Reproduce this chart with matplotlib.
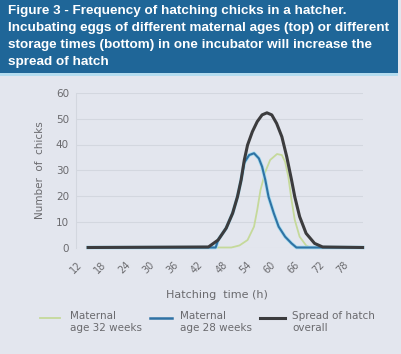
import matplotlib
matplotlib.use('Agg')
import matplotlib.pyplot as plt
import matplotlib.patches as mpatches

# hatching time (h) and number of chicks
t_overall = [15, 44.8, 47.2, 49.2, 50.8, 52.0, 52.9, 53.7, 54.5, 55.7, 56.9, 58.1,
             59.3, 60.5, 61.7, 63.0, 64.2, 65.4, 66.2, 67.4, 69.0, 71.1, 73.1, 83]
n_overall = [0, 0.2, 2.9, 7.5, 13.3, 19.7, 26.2, 34, 39.8, 45, 48.9, 51.5,
             52.3, 51.5, 48.2, 43, 35.3, 26.2, 19.7, 12, 5.5, 1.6, 0.2, 0]

t_age28 = [15, 46.6, 47.2, 49.2, 50.8, 52.0, 52.9, 53.7, 54.9, 56.1, 57.3, 58.1,
           58.9, 59.7, 61.0, 62.2, 63.8, 65.4, 66.6, 83]
n_age28 = [0, 0, 2.9, 7.5, 13.3, 19.7, 26.2, 33, 35.9, 36.6, 34.6, 31.4,
           26.2, 19.7, 13.3, 8.1, 4.2, 1.6, 0, 0]

t_age32 = [15, 50.5, 52.5, 54.5, 56.1, 56.9, 57.7, 58.9, 60.1, 61.8, 63.0, 63.8,
           64.6, 65.4, 66.2, 67.4, 69.0, 70.0, 83]
n_age32 = [0, 0, 0.8, 2.9, 8.1, 14.6, 22.3, 29.4, 34, 36.3, 35.9, 33.3,
           27.5, 18.4, 10.7, 4.2, 0.8, 0, 0]

xticks = [12, 18, 24, 30, 36, 42, 48, 54, 60, 66, 72, 78]
yticks = [0, 10, 20, 30, 40, 50, 60]

title = ("Figure 3 - Frequency of hatching chicks in a hatcher.\n"
         "Incubating eggs of different maternal ages (top) or different\n"
         "storage times (bottom) in one incubator will increase the\n"
         "spread of hatch")

W, H = 402, 354
bg = '#e3e6ee'
c_green = '#c5d99a'
c_blue = '#2f72a4'
c_dark = '#3c3c3e'
c_text = '#6a6a6e'

fig = plt.figure(figsize=(W/100, H/100), dpi=100, facecolor=bg)

# title banner
fig.patches.append(mpatches.Rectangle((0, 1-73/H), 398/W, 73/H, transform=fig.transFigure,
                                      facecolor='#1f6698', edgecolor='none', zorder=0))
fig.patches.append(mpatches.Rectangle((0, 1-76/H), 398/W, 3/H, transform=fig.transFigure,
                                      facecolor='#b4dcef', edgecolor='none', zorder=0))
fig.text(8/W, 1-5/H, title, color='white', fontsize=9.7, fontweight='bold',
         family=['Liberation Sans Narrow', 'Liberation Sans'], va='top', ha='left',
         linespacing=1.55)

ax = fig.add_axes([76/W, 106.5/H, 287/W, 154.5/H])
ax.set_facecolor(bg)
ax.plot(t_age32, n_age32, color=c_green, lw=1.3, clip_on=False, zorder=3)
ax.plot(t_age28, n_age28, color='#a6dcef', lw=2.6, clip_on=False, zorder=3)
ax.plot(t_age28, n_age28, color=c_blue, lw=1.5, clip_on=False, zorder=4)
ax.plot(t_overall, n_overall, color=c_dark, lw=2.2, clip_on=False, zorder=5)

ax.set_xlim(13.46, 83.1)
ax.set_ylim(0, 60)
ax.set_xticks(xticks)
ax.set_yticks(yticks)
ax.set_xticklabels([str(v) for v in xticks], rotation=45, ha='center', fontsize=7,
                   color=c_text)
ax.set_yticklabels([str(v) for v in yticks], fontsize=7.5, color=c_text)
ax.tick_params(length=0, pad=5)
ax.tick_params(axis='x', pad=9)
ax.grid(axis='y', color='#d3d7df', lw=0.8)
ax.set_axisbelow(True)
for s in ['top', 'right', 'bottom']:
    ax.spines[s].set_visible(False)
ax.spines['left'].set_color('#d3d7df')
ax.set_ylabel('Number  of  chicks', fontsize=7.5, color=c_text, labelpad=8)

fig.text(217/W, 1-295/H, 'Hatching  time (h)', fontsize=8, color=c_text,
         ha='center', va='center')

# legend drawn by hand
leg = [(40, 60, 70, c_green, 1.3, 'Maternal\nage 32 weeks'),
       (150, 172, 180, c_blue, 1.8, 'Maternal\nage 28 weeks'),
       (260, 285, 292, c_dark, 2.2, 'Spread of hatch\noverall')]
for x0, x1, xt, col, lw, lab in leg:
    fig.add_artist(plt.Line2D([x0/W, x1/W], [1-318/H, 1-318/H], color=col, lw=lw,
                              transform=fig.transFigure))
    fig.text(xt/W, 1-311/H, lab, fontsize=7.5, color=c_text, ha='left', va='top',
             linespacing=1.3)

fig.savefig('out.png', dpi=100, facecolor=bg)
